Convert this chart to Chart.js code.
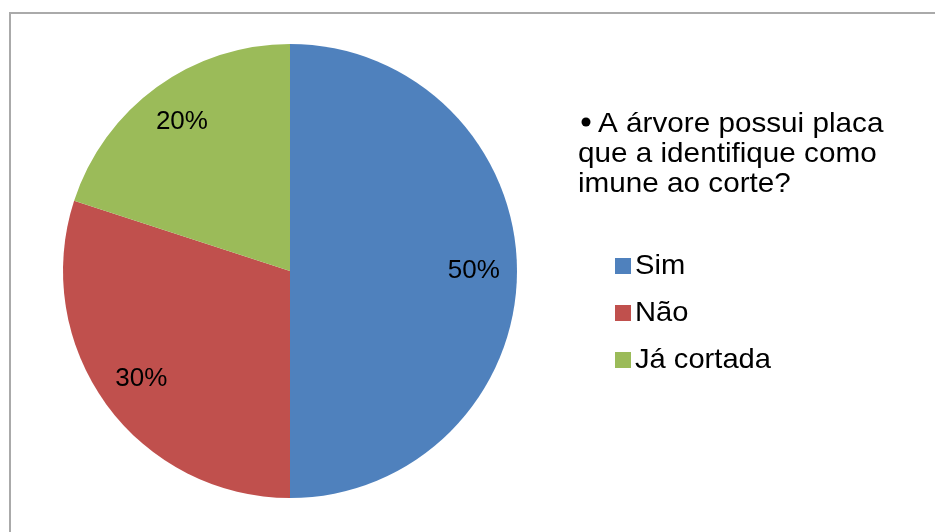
<!DOCTYPE html>
<html>
<head>
<meta charset="utf-8">
<script src="https://cdn.jsdelivr.net/npm/chart.js@4"></script>
<style>
  html, body { margin: 0; padding: 0; background: #fff; overflow: hidden; }
  #wrap { position: relative; width: 935px; height: 532px; }
  #frame {
    position: absolute; left: 9px; top: 12px; width: 960px; height: 560px;
    border: 2px solid #aaaaaa; box-sizing: border-box;
  }
  #pie { position: absolute; left: 0; top: 0; }
</style>
</head>
<body>
<div id="wrap">
  <div id="frame"></div>
  <canvas id="pie" width="935" height="532"></canvas>
</div>
<script>
const categories = ["Sim", "Não", "Já cortada"];
const shares = [50, 30, 20];
const sliceColors = ["#4f81bd", "#c0504d", "#9bbb59"];
const titleLines = ["A árvore possui placa", "que a identifique como", "imune ao corte?"];

const FONT = "'Liberation Sans', Arial, sans-serif";

// percent labels inside each slice
const sliceLabels = {
  id: "sliceLabels",
  afterDatasetsDraw(chart) {
    const ctx = chart.ctx;
    const meta = chart.getDatasetMeta(0);
    ctx.save();
    ctx.font = "26px " + FONT;
    ctx.fillStyle = "#000";
    ctx.textAlign = "center";
    ctx.textBaseline = "middle";
    meta.data.forEach((arc, i) => {
      const p = arc.getProps(["x", "y", "startAngle", "endAngle", "outerRadius"]);
      const mid = (p.startAngle + p.endAngle) / 2;
      const r = p.outerRadius * 0.81;
      ctx.fillText(shares[i] + "%", p.x + Math.cos(mid) * r, p.y + Math.sin(mid) * r);
    });
    ctx.restore();
  }
};

// stretched text, the original is a bit wider than plain Arial
const wideText = (ctx, txt, x, y, sx) => {
  ctx.save();
  ctx.translate(x, y);
  ctx.scale(sx, 1);
  ctx.fillText(txt, 0, 0);
  ctx.restore();
};

// legend on the right with bulleted title
const sideLegend = {
  id: "sideLegend",
  afterDraw(chart) {
    const ctx = chart.ctx;
    ctx.save();
    ctx.fillStyle = "#000";
    ctx.textBaseline = "alphabetic";
    ctx.textAlign = "left";
    ctx.font = "28px " + FONT;
    ctx.beginPath();
    ctx.arc(586, 122, 4.5, 0, Math.PI * 2);
    ctx.fill();
    wideText(ctx, titleLines[0], 598, 132, 1.06);
    wideText(ctx, titleLines[1], 578, 162, 1.06);
    wideText(ctx, titleLines[2], 578, 192, 1.06);

    categories.forEach((name, i) => {
      const y = 258 + i * 47;
      ctx.fillStyle = sliceColors[i];
      ctx.fillRect(615, y, 16, 16);
      ctx.fillStyle = "#000";
      wideText(ctx, name, 635, y + 16, 1.04);
    });
    ctx.restore();
  }
};

new Chart(document.getElementById("pie"), {
  type: "pie",
  data: {
    labels: categories,
    datasets: [{
      data: shares,
      backgroundColor: sliceColors,
      borderWidth: 0
    }]
  },
  options: {
    responsive: false,
    animation: false,
    layout: { padding: { left: 62, top: 44, right: 417, bottom: 34 } },
    plugins: {
      legend: { display: false },
      tooltip: { enabled: false }
    }
  },
  plugins: [sliceLabels, sideLegend]
});
</script>
</body>
</html>
